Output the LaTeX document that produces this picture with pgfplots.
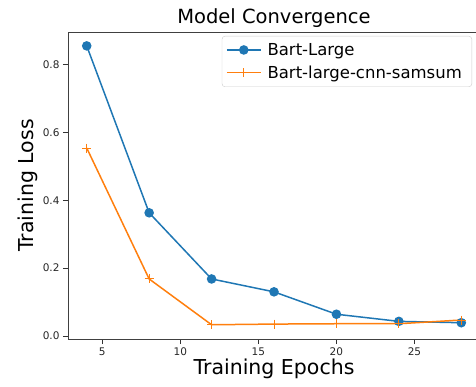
\documentclass[border=0pt]{standalone}
\usepackage{fontspec}
\setmainfont{DejaVu Sans}
\usepackage{pgfplots}
\pgfplotsset{compat=1.18}
\definecolor{tabblue}{HTML}{1F77B4}
\definecolor{taborange}{HTML}{FF7F0E}
\begin{document}
\begin{tikzpicture}
\begin{axis}[
  scale only axis,
  width=412pt, height=307pt,
  xmin=2.8, xmax=29.2,
  ymin=-0.009, ymax=0.896,
  xtick={5,10,15,20,25},
  ytick={0,0.2,0.4,0.6,0.8},
  yticklabel style={/pgf/number format/fixed,/pgf/number format/fixed zerofill,/pgf/number format/precision=1},
  /pgf/number format/assume math mode=true,
  ticklabel style={font=\fontsize{10.5}{12}\selectfont, color=black!85},
  tick align=outside,
  major tick length=5pt,
  tick style={black!80, line width=0.8pt},
  xtick pos=bottom, ytick pos=left,
  axis line style={black!75, line width=0.8pt},
  title={Model Convergence},
  title style={font=\fontsize{19.5}{22}\selectfont, yshift=-5pt},
  xlabel={Training Epochs},
  ylabel={Training Loss},
  xlabel style={font=\fontsize{20.5}{24}\selectfont, yshift=3pt},
  ylabel style={font=\fontsize{20.5}{24}\selectfont, yshift=-2pt},
  legend style={at={(1,1)}, anchor=north east, xshift=-8pt, yshift=-4pt,
    font=\fontsize{16.5}{19}\selectfont, draw=black!20, rounded corners=3pt,
    inner xsep=4pt, inner ysep=5pt, row sep=5pt,
    nodes={inner xsep=6pt, inner ysep=2pt}},
  legend image code/.code={%
    \draw[mark repeat=2,mark phase=2] plot coordinates {(0pt,0pt)(17pt,0pt)(34pt,0pt)};},
  legend cell align=left,
]
\addplot[tabblue, line width=1.5pt, mark=*, mark size=4pt, mark options={solid}]
  coordinates {(4,0.855) (8,0.363) (12,0.168) (16,0.130) (20,0.064) (24,0.043) (28,0.039)};
\addlegendentry{Bart-Large}
\addplot[taborange, line width=1.5pt, mark=+, mark size=4.5pt, mark options={solid, line width=1pt}]
  coordinates {(4,0.554) (8,0.168) (12,0.033) (16,0.035) (20,0.036) (24,0.036) (28,0.047)};
\addlegendentry{Bart-large-cnn-samsum}
\end{axis}
\pgfresetboundingbox
\path[use as bounding box] ([xshift=-68pt,yshift=-47pt]current axis.south west) rectangle ([xshift=408pt,yshift=339pt]current axis.south west);
\end{tikzpicture}
\end{document}
